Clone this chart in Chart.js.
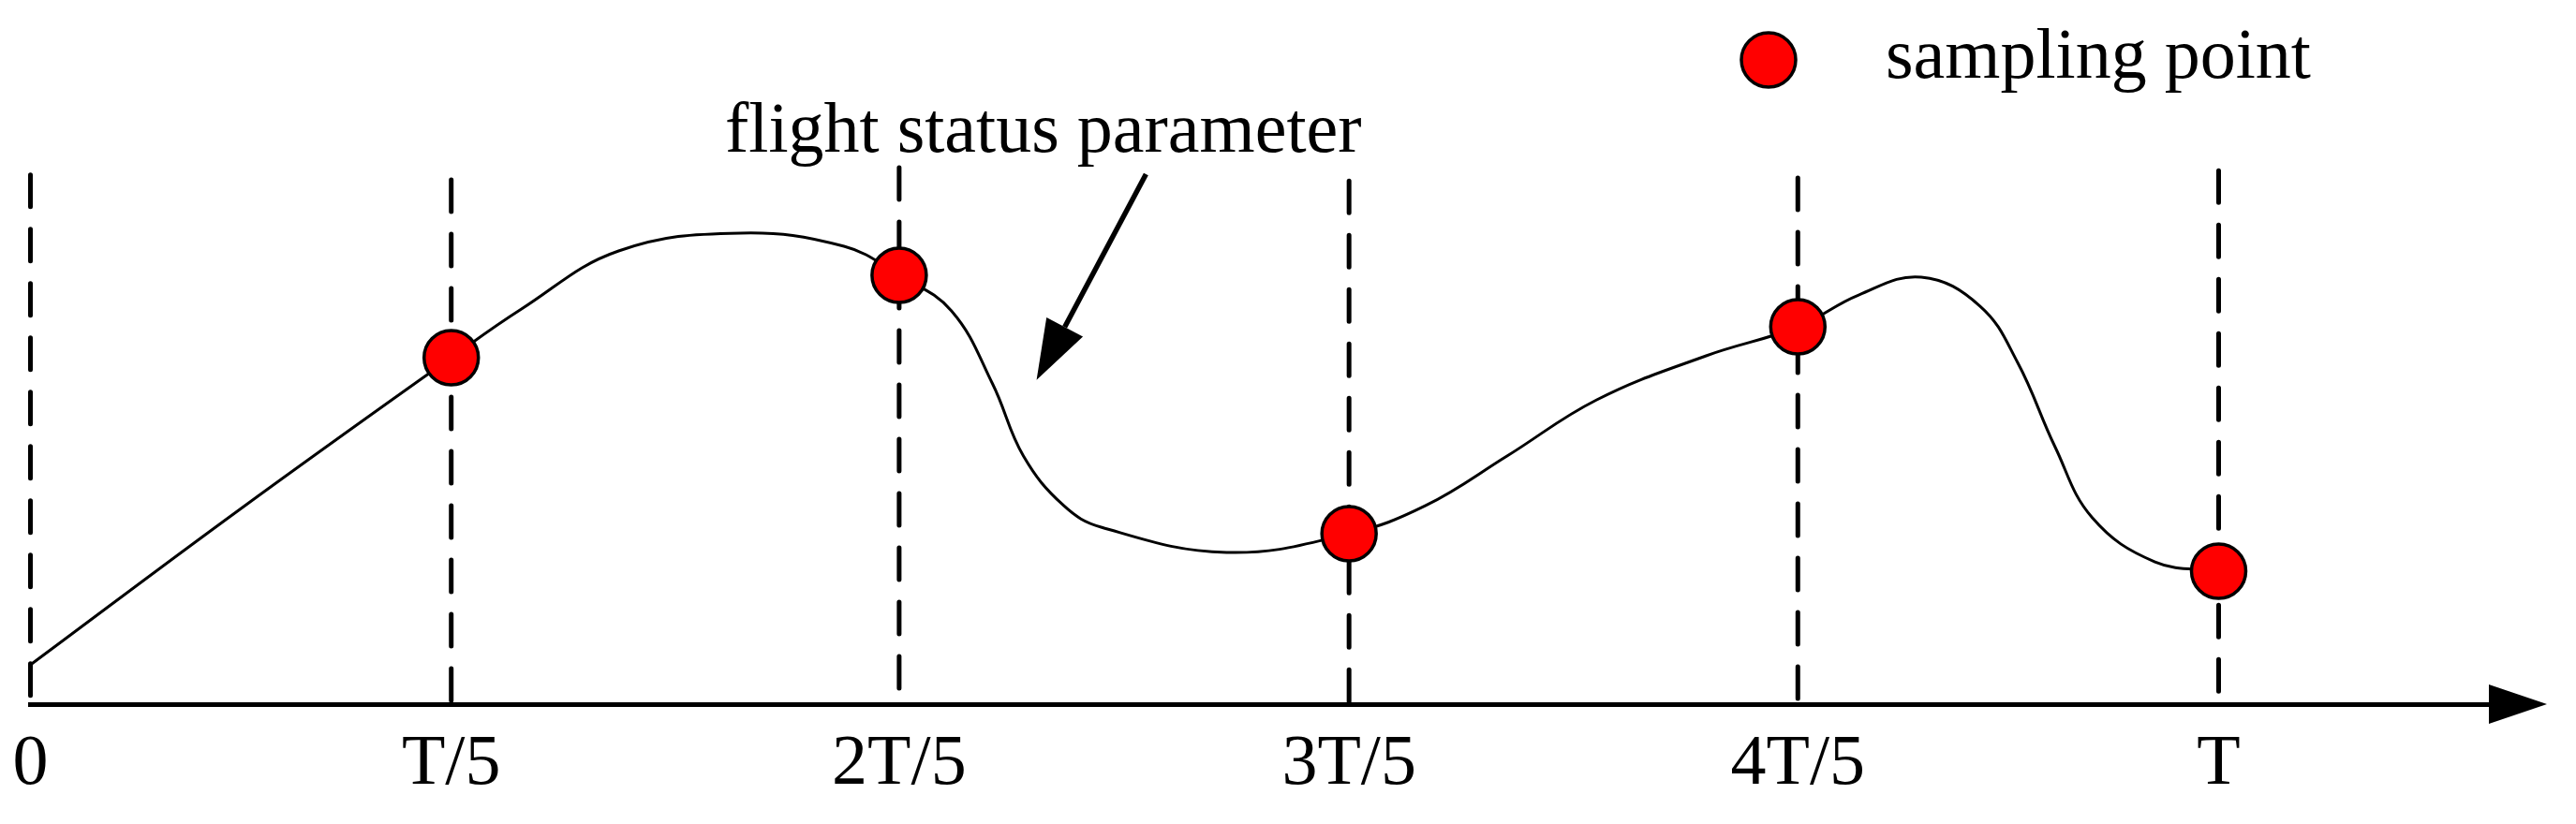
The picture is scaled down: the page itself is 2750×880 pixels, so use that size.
<!DOCTYPE html>
<html>
<head>
<meta charset="utf-8">
<title>Sampling of a flight status parameter</title>
<script src="https://cdn.jsdelivr.net/npm/chart.js@4.4.1/dist/chart.umd.min.js"></script>
<style>
    html, body { margin: 0; padding: 0; background: #fff; }
    #wrap { width: 2750px; height: 880px; }
</style>
</head>
<body>
<div id="wrap"><canvas id="chartCanvas" width="2750" height="880"></canvas></div>
<script>
// Sampling instants (in units of T) and their axis labels
const sampleTimes = [0, 0.1923, 0.3970, 0.6026, 0.8077, 1.0];
const tickLabels = ['0', 'T/5', '2T/5', '3T/5', '4T/5', 'T'];

// Parameter value picked up at T/5 ... T (nothing is sampled at 0)
const sampleValues = [5.675, 7.025, 2.791, 6.181, 2.178];

// Height where each dashed sampling guide starts
const guideTops = [8.67, 8.59, 8.79, 8.57, 8.62, 8.74];

// The flight status parameter itself
const curveTimes = [
    0, 0.0957, 0.1923, 0.2244, 0.2688, 0.3244, 0.3718,
    0.3970, 0.4209, 0.4397, 0.4538, 0.4722, 0.4893, 0.5466,
    0.6026, 0.6376, 0.6748, 0.7158, 0.7658,
    0.8077, 0.8355, 0.8641, 0.8910, 0.9081, 0.9252, 0.9423, 0.9709, 1.0
];
const curveValues = [
    0.644, 3.190, 5.675, 6.472, 7.423, 7.715, 7.500,
    7.025, 6.442, 5.245, 4.064, 3.252, 2.899, 2.485,
    2.791, 3.252, 4.064, 4.985, 5.706,
    6.181, 6.702, 6.994, 6.518, 5.598, 4.218, 3.052, 2.331, 2.178
];

const FONT = '"Liberation Serif", "Times New Roman", serif';

// filled triangle whose tip sits at (tipX, tipY), pointing away from (fromX, fromY)
function drawArrowHead(ctx, fromX, fromY, tipX, tipY, length, halfWidth) {
    const dx = tipX - fromX, dy = tipY - fromY;
    const len = Math.hypot(dx, dy);
    const ux = dx / len, uy = dy / len;
    const bx = tipX - ux * length, by = tipY - uy * length;
    ctx.beginPath();
    ctx.moveTo(tipX, tipY);
    ctx.lineTo(bx - uy * halfWidth, by + ux * halfWidth);
    ctx.lineTo(bx + uy * halfWidth, by - ux * halfWidth);
    ctx.closePath();
    ctx.fill();
    return { x: bx, y: by };
}

// Axis arrow, annotation and the legend entry
const figureDecorations = {
    id: 'figureDecorations',
    afterDraw(chart) {
        const ctx = chart.ctx;
        const area = chart.chartArea;
        const xs = chart.scales.x;
        const ys = chart.scales.y;

        ctx.save();
        ctx.fillStyle = '#000';
        ctx.strokeStyle = '#000';

        // time axis arrow
        const axisY = xs.top;
        drawArrowHead(ctx, area.left, axisY, area.right + 55, axisY, 62, 21);

        // arrow pointing at the curve
        const tailX = xs.getPixelForValue(0.5098), tailY = ys.getPixelForValue(8.68);
        const tipX = xs.getPixelForValue(0.4598), tipY = ys.getPixelForValue(5.31);
        const base = drawArrowHead(ctx, tailX, tailY, tipX, tipY, 64, 22);
        ctx.lineWidth = 5.5;
        ctx.beginPath();
        ctx.moveTo(tailX, tailY);
        ctx.lineTo(base.x, base.y);
        ctx.stroke();

        ctx.font = '76px ' + FONT;
        ctx.textBaseline = 'alphabetic';
        ctx.textAlign = 'left';
        ctx.fillText('flight status parameter', 774, 162);

        // legend
        ctx.beginPath();
        ctx.arc(1888, 64, 29, 0, Math.PI * 2);
        ctx.fillStyle = '#ff0000';
        ctx.fill();
        ctx.lineWidth = 3.5;
        ctx.stroke();
        ctx.fillStyle = '#000';
        ctx.fillText('sampling point', 2013, 83);

        ctx.restore();
    }
};

const guideDatasets = sampleTimes.map((t, i) => ({
    label: 'guide ' + tickLabels[i],
    data: [{ x: t, y: guideTops[i] }, { x: t, y: 0 }],
    borderColor: '#000',
    borderWidth: 5,
    borderDash: [34, 24],
    borderCapStyle: 'round',
    pointRadius: 0,
    clip: false,
    order: 3
}));

const config = {
    type: 'line',
    data: {
        datasets: [
            {
                label: 'sampling point',
                data: sampleValues.map((v, i) => ({ x: sampleTimes[i + 1], y: v })),
                showLine: false,
                pointRadius: 29,
                pointHoverRadius: 29,
                pointBackgroundColor: '#ff0000',
                pointBorderColor: '#000',
                pointBorderWidth: 3.5,
                clip: false,
                order: 1
            },
            {
                label: 'flight status parameter',
                data: curveTimes.map((t, i) => ({ x: t, y: curveValues[i] })),
                borderColor: '#000',
                borderWidth: 3,
                pointRadius: 0,
                tension: 0.4,
                fill: false,
                clip: false,
                order: 2
            },
            ...guideDatasets
        ]
    },
    options: {
        responsive: false,
        devicePixelRatio: 1,
        animation: false,
        events: [],
        layout: {
            padding: { left: 28, right: 86, top: 100, bottom: 25 }
        },
        plugins: {
            legend: { display: false },
            tooltip: { enabled: false },
            title: { display: false }
        },
        scales: {
            x: {
                type: 'linear',
                min: 0,
                max: 1.1265,
                // tick marks are hidden, their length only spaces the labels off the axis
                grid: { display: false, drawTicks: true, tickLength: 27 },
                border: { display: true, color: '#000', width: 5 },
                afterBuildTicks: scale => {
                    scale.ticks = sampleTimes.map(t => ({ value: t }));
                },
                ticks: {
                    autoSkip: false,
                    maxRotation: 0,
                    padding: 0,
                    color: '#000',
                    font: { family: FONT, size: 76, lineHeight: 1 },
                    callback: (value, index) => tickLabels[index]
                }
            },
            y: {
                display: false,
                min: 0,
                max: 10
            }
        }
    },
    plugins: [figureDecorations]
};

const chart = new Chart(document.getElementById('chartCanvas'), config);
</script>
</body>
</html>
